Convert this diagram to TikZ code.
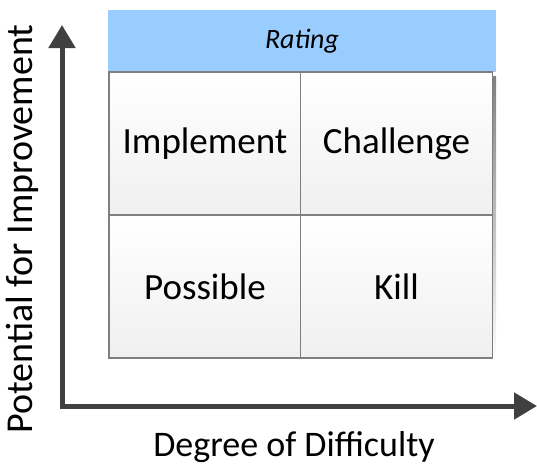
\documentclass[tikz,border=0pt]{standalone}
\usepackage{fontspec}
\setmainfont{Carlito}
\usetikzlibrary{arrows.meta}
\definecolor{hdr}{HTML}{99CCFF}
\definecolor{axisc}{HTML}{404040}
\definecolor{cellb}{HTML}{7F7F7F}
\definecolor{shade}{HTML}{E2E2E2}
\begin{document}
\begin{tikzpicture}[x=1pt,y=-1pt,
  cell/.style={draw=cellb, line width=1.2pt, top color=white, bottom color=black!6,
    minimum width=192pt, minimum height=143pt, inner sep=0pt,
    font=\fontsize{37}{42}\selectfont},
  header/.style={fill=hdr, minimum width=388pt, minimum height=62pt, inner sep=0pt,
    font=\fontsize{28}{32}\selectfont\itshape},
  axislabel/.style={font=\fontsize{36}{42}\selectfont, inner sep=0pt},
  axisline/.style={draw=axisc, line width=5pt, {Triangle[length=23pt,width=26pt]}-{Triangle[length=23pt,width=26pt]}}
]
\useasboundingbox (0,0) rectangle (537,466);
% shadow
\fill[shade] (113,76) rectangle (496,362);
% header
\node[header] (rating) at (302,41) {Rating};
% cells
\node[cell] (impl) at (205,143.5) {Implement};
\node[cell] (chal) at (396.5,143.5) {Challenge};
\node[cell] (poss) at (205,286.5) {Possible};
\node[cell] (kill) at (396.5,286.5) {Kill};
% axes
\coordinate (ytip) at (62,25);
\coordinate (origin) at (62,406);
\coordinate (xtip) at (537,406);
\draw[axisline] (ytip) -- (origin) -- (xtip);
% labels
\node[axislabel, anchor=base, rotate=90, font=\fontsize{38}{44}\selectfont] (ylab) at (32,229) {Potential for Improvement};
\node[axislabel, anchor=base] (xlab) at (294,456) {Degree of Difficulty};
\end{tikzpicture}
\end{document}
